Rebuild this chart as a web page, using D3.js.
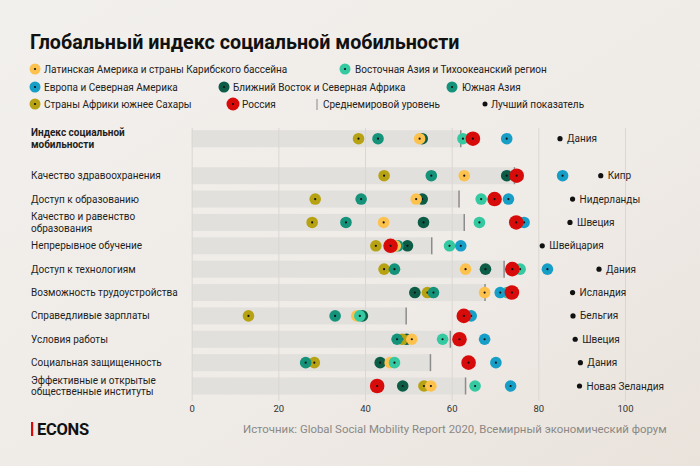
<!DOCTYPE html>
<html><head><meta charset="utf-8">
<script src="https://cdn.jsdelivr.net/npm/d3@7"></script>
<style>
html,body{margin:0;padding:0;}
body{width:700px;height:466px;overflow:hidden;}
svg{display:block;font-family:Roboto,"Noto Sans",sans-serif;}
</style></head><body>
<svg id="chart" width="700" height="466"></svg>
<script>
// ---------- DATA ----------
const categories = [
  "Индекс социальной\nмобильности",
  "Качество здравоохранения",
  "Доступ к образованию",
  "Качество и равенство\nобразования",
  "Непрерывное обучение",
  "Доступ к технологиям",
  "Возможность трудоустройства",
  "Справедливые зарплаты",
  "Условия работы",
  "Социальная защищенность",
  "Эффективные и открытые\nобщественные институты"
];
const middleEast   = [53.2, 72.7, 53.2, 53.5, 49.8, 67.8, 51.5, 39.4, 49.6, 43.5, 48.7];
const subSahara    = [38.5, 44.4, 28.5, 27.8, 42.5, 44.4, 54.4, 13.1, 48.6, 28.3, 53.6];
const southAsia    = [43.0, 55.3, 39.1, 35.6, 47.6, 46.8, 55.8, 33.1, 47.4, 26.3, 43.0];
const latinAmerica = [52.6, 62.9, 51.8, 44.3, 47.0, 63.2, 67.6, 38.1, 50.8, 45.8, 55.2];
const eastAsia     = [62.6, 74.8, 66.8, 66.4, 59.5, 75.8, 72.8, 38.8, 57.9, 46.8, 65.4];
const europe       = [72.7, 85.6, 73.1, 76.7, 62.1, 82.1, 71.2, 64.5, 67.6, 70.2, 73.6];
const russia       = [64.9, 75.0, 69.9, 74.9, 45.9, 74.0, 73.9, 62.8, 61.8, 63.9, 42.8];
const worldAverage = [62.1, 74.5, 61.7, 62.9, 55.4, 72.1, 67.7, 49.5, 59.7, 55.1, 63.2];
const bestCountry  = ["Дания","Кипр","Нидерланды","Швеция","Швейцария","Дания","Исландия","Бельгия","Швеция","Дания","Новая Зеландия"];
const bestValue    = [85.0, 94.4, 87.9, 87.3, 80.9, 94.0, 87.9, 88.0, 88.5, 89.7, 89.5];
const axisTicks    = [0, 20, 40, 60, 80, 100];

const seriesNames = {
  latin: "Латинская Америка и страны Карибского бассейна",
  eastAsia: "Восточная Азия и Тихоокеанский регион",
  europe: "Европа и Северная Америка",
  middleEast: "Ближний Восток и Северная Африка",
  southAsia: "Южная Азия",
  subSahara: "Страны Африки южнее Сахары",
  russia: "Россия"
};
const colors = {
  latin: "#fdc24e", eastAsia: "#35c9a1", europe: "#179ec6",
  middleEast: "#0c5c46", southAsia: "#15927a", subSahara: "#b6a213", russia: "#d80b0b"
};

// draw order bottom -> top
const series = [
  {key:"middleEast", values: middleEast},
  {key:"subSahara", values: subSahara},
  {key:"southAsia", values: southAsia},
  {key:"latin", values: latinAmerica},
  {key:"eastAsia", values: eastAsia},
  {key:"europe", values: europe},
  {key:"russia", values: russia}
];

// ---------- CHART ----------
const svg = d3.select("#chart");
const defs = svg.append("defs");
const grad = defs.append("linearGradient").attr("id","bg")
  .attr("x1","0").attr("y1","0").attr("x2","1").attr("y2","1");
grad.append("stop").attr("offset","0").attr("stop-color","#f2f0ed");
grad.append("stop").attr("offset","0.6").attr("stop-color","#efebe7");
grad.append("stop").attr("offset","1").attr("stop-color","#eae3dc");
svg.append("rect").attr("width",700).attr("height",466).attr("fill","url(#bg)");

// title
svg.append("text").attr("x",30).attr("y",49)
  .attr("font-size",19.7).attr("font-weight",700).attr("fill","#111")
  .text("Глобальный индекс социальной мобильности");

// legend
const legendItems = [
  {key:"latin", cx:35, cy:69, tx:44},
  {key:"eastAsia", cx:345, cy:69, tx:355},
  {key:"europe", cx:35, cy:87, tx:44},
  {key:"middleEast", cx:224, cy:87, tx:233},
  {key:"southAsia", cx:452, cy:87, tx:462},
  {key:"subSahara", cx:35, cy:104, tx:44},
  {key:"russia", cx:233, cy:104, tx:242}
];
const lg = svg.append("g");
legendItems.forEach(d => {
  lg.append("circle").attr("cx",d.cx).attr("cy",d.cy)
    .attr("r", d.key==="russia" ? 6.5 : 5.5).attr("fill",colors[d.key]);
  lg.append("circle").attr("cx",d.cx).attr("cy",d.cy).attr("r",1.1).attr("fill","#111");
  lg.append("text").attr("x",d.tx).attr("y",d.cy).attr("dy","0.35em")
    .attr("font-size",10).attr("fill","#222").text(seriesNames[d.key]);
});
lg.append("line").attr("x1",317).attr("x2",317).attr("y1",99).attr("y2",110)
  .attr("stroke","#999").attr("stroke-width",1.2);
lg.append("text").attr("x",323).attr("y",104).attr("dy","0.35em")
  .attr("font-size",10).attr("fill","#222").text("Среднемировой уровень");
lg.append("circle").attr("cx",485).attr("cy",104).attr("r",2.5).attr("fill","#111");
lg.append("text").attr("x",491).attr("y",104).attr("dy","0.35em")
  .attr("font-size",10).attr("fill","#222").text("Лучший показатель");

// scales
const x = d3.scaleLinear().domain([0,100]).range([191.7,625]);
const y = d3.scalePoint().domain(d3.range(1, categories.length)).range([175.7,386]);
const rowY = i => i === 0 ? 138.7 : y(i);
const bandH = 17;

// bands (0 -> world average)
svg.append("g").selectAll("rect").data(worldAverage).join("rect")
  .attr("x", x(0)).attr("y", (d,i) => rowY(i) - bandH/2)
  .attr("width", d => x(d) - x(0)).attr("height", bandH)
  .attr("fill", "#e2e0dc");

// axis + grid
const axis = d3.axisBottom(x).tickValues(axisTicks).tickSize(-(401-128)).tickPadding(4);
const ag = svg.append("g").attr("transform","translate(0,401)").call(axis);
ag.select(".domain").remove();
ag.selectAll(".tick line").attr("stroke","#dad7d3").attr("stroke-width",1);
ag.selectAll(".tick text").attr("font-size",9.5).attr("fill","#333")
  .attr("font-family","Roboto, sans-serif");

// world average ticks
svg.append("g").selectAll("line").data(worldAverage).join("line")
  .attr("x1", d => x(d)).attr("x2", d => x(d))
  .attr("y1", (d,i) => rowY(i) - bandH/2).attr("y2", (d,i) => rowY(i) + bandH/2)
  .attr("stroke","#8c8c8c").attr("stroke-width",1.5);

// row labels
const labels = svg.append("g");
categories.forEach((c,i) => {
  const lines = c.split("\n");
  const t = labels.append("text").attr("x",31).attr("font-size",10)
    .attr("fill","#1e1e1e").attr("font-weight", i===0 ? 700 : 400);
  const lh = i === 0 ? 12 : 11.6;
  lines.forEach((ln,j) => {
    t.append("tspan").attr("x",31)
      .attr("y", rowY(i) + (j - (lines.length-1)/2) * lh)
      .attr("dy","0.35em").text(ln);
  });
});

// dots
series.forEach(s => {
  const g = svg.append("g");
  const r = s.key === "russia" ? 7.3 : 5.8;
  g.selectAll("circle.m").data(s.values).join("circle").attr("class","m")
    .attr("cx", d => x(d)).attr("cy", (d,i) => rowY(i)).attr("r", r)
    .attr("fill", colors[s.key]);
  g.selectAll("circle.c").data(s.values).join("circle").attr("class","c")
    .attr("cx", d => x(d)).attr("cy", (d,i) => rowY(i)).attr("r", 1.1)
    .attr("fill", "#111");
});

// best performers
const bg = svg.append("g");
bg.selectAll("circle").data(bestValue).join("circle")
  .attr("cx", d => x(d)).attr("cy", (d,i) => rowY(i)).attr("r", 2.6).attr("fill","#111");
bg.selectAll("text").data(bestValue).join("text")
  .attr("x", d => x(d) + 7).attr("y", (d,i) => rowY(i)).attr("dy","0.35em")
  .attr("font-size",10).attr("fill","#1e1e1e").text((d,i) => bestCountry[i]);

// footer
svg.append("rect").attr("x",31).attr("y",422).attr("width",2.2).attr("height",14).attr("fill","#d80b0b");
svg.append("text").attr("x",37).attr("y",435).attr("font-size",16.5).attr("font-weight",700)
  .attr("fill","#111").attr("letter-spacing","-0.3").text("ECONS");
svg.append("text").attr("x",243).attr("y",433).attr("font-size",11.4).attr("fill","#8a8884")
  .text("Источник: Global Social Mobility Report 2020, Всемирный экономический форум");
</script>
</body></html>
